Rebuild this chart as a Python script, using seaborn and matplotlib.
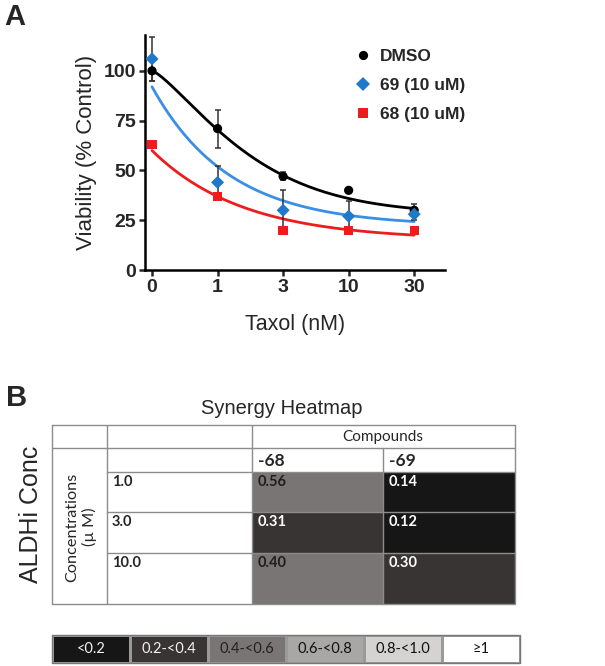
import numpy as np
import pandas as pd
import seaborn as sns
import matplotlib.pyplot as plt
from matplotlib.colors import ListedColormap, BoundaryNorm

## Panel A data: viability vs taxol
taxol_labels = ["0", "1", "3", "10", "30"]
dmso = [100, 71, 47, 40, 30]
dmso_err = [5, 9.5, 2, 0, 3]
cpd69 = [106, 44, 30, 27, 28]
cpd69_err = [11, 8, 10, 7.5, 3]
cpd68 = [63, 37, 20, 20, 20]
cpd68_err = [0, 0, 0, 0, 0]
series_names = ["DMSO", "69 (10 uM)", "68 (10 uM)"]

# fitted curve parameters (bottom, span, rate, shape)
fit_dmso = (28, 72, 0.53, 1.3)
fit_69 = (22, 70, 0.85, 1.0)
fit_68 = (15, 45, 0.72, 1.0)

## Panel B data: synergy table
conc_labels = ["1.0", "3.0", "10.0"]
compounds = ["-68", "-69"]
synergy = np.array([[0.56, 0.14], [0.31, 0.12], [0.40, 0.30]])
bin_edges = [0, 0.2, 0.4, 0.6, 0.8, 1.0, 2.0]
bin_labels = ["<0.2", "0.2-<0.4", "0.4-<0.6", "0.6-<0.8", "0.8-<1.0", "≥1"]
bin_colors = ["#161616", "#383433", "#787574", "#a9a7a5", "#d4d3d2", "#ffffff"]

colors = {"DMSO": "black", "69 (10 uM)": "#1f78c8", "68 (10 uM)": "#ee1c1c"}
curve_colors = {"DMSO": "black", "69 (10 uM)": "#3a8ee6", "68 (10 uM)": "#ee1c1c"}
markers = {"DMSO": "o", "69 (10 uM)": "D", "68 (10 uM)": "s"}

sns.set_style("ticks")
plt.rcParams["font.family"] = ["Liberation Sans", "DejaVu Sans"]

fig = plt.figure(figsize=(6.05, 6.66), dpi=100)
W, H = 605, 666


def fig_rect(x0, y0, x1, y1):
    return [x0 / W, 1 - y1 / H, (x1 - x0) / W, (y1 - y0) / H]


#%% Panel A
ax = fig.add_axes(fig_rect(145, 35, 445, 270))
pos = np.arange(len(taxol_labels))
vals = {"DMSO": dmso, "69 (10 uM)": cpd69, "68 (10 uM)": cpd68}
errs = {"DMSO": dmso_err, "69 (10 uM)": cpd69_err, "68 (10 uM)": cpd68_err}
fits = {"DMSO": fit_dmso, "69 (10 uM)": fit_69, "68 (10 uM)": fit_68}

xs = np.linspace(0, 4, 200)
for name in series_names:
    b, a, k, m = fits[name]
    sns.lineplot(x=xs, y=b + a * np.exp(-k * xs ** m), color=curve_colors[name],
                 lw=2.0, ax=ax, zorder=2)

for name in series_names:
    e = np.array(errs[name])
    if e.any():
        ax.errorbar(pos, vals[name], yerr=e, fmt="none", ecolor="#333333",
                    elinewidth=1.1, capsize=2.2, capthick=1.1, zorder=3)

df = pd.DataFrame({
    "pos": np.tile(pos, 3),
    "viability": dmso + cpd69 + cpd68,
    "treatment": np.repeat(series_names, len(pos)),
})
sns.scatterplot(data=df, x="pos", y="viability", hue="treatment", style="treatment",
                palette=colors, markers=markers, s=44, linewidth=0, ax=ax,
                zorder=4, clip_on=False)

ax.set_xlim(-0.107, 4.47)
ax.set_ylim(0, 118)
ax.set_xticks(pos)
ax.set_xticklabels(taxol_labels)
ax.set_yticks([0, 25, 50, 75, 100])
ax.tick_params(width=1.8, length=4.5, labelsize=14, pad=2)
for lab in ax.get_xticklabels() + ax.get_yticklabels():
    lab.set_fontweight("bold")
for s in ["top", "right"]:
    ax.spines[s].set_visible(False)
for s in ["left", "bottom"]:
    ax.spines[s].set_linewidth(1.8)
    ax.spines[s].set_color("black")
ax.set_xlabel("Taxol (nM)", fontsize=15.5, labelpad=13)
ax.set_ylabel("Viability (% Control)", fontsize=16, labelpad=5)

handles, labels = ax.get_legend_handles_labels()
ax.legend(handles, labels, loc="upper left", bbox_to_anchor=(354 / W, 1 - 49 / H),
          bbox_transform=fig.transFigure, frameon=False, borderpad=0,
          borderaxespad=0, handlelength=1.0, handletextpad=0.5, labelspacing=0.8,
          prop={"weight": "bold", "size": 12.5})

#%% Panel B
tab = fig.add_axes([0, 0, 1, 1], zorder=5)
tab.set_xlim(0, W)
tab.set_ylim(H, 0)
tab.axis("off")

fig.text(15 / W, 1 - 17 / H, "A", fontsize=21, fontweight="bold", ha="center", va="center")
fig.text(17 / W, 1 - 398 / H, "B", fontsize=21, fontweight="bold", ha="center", va="center")

# table layout (pixels)
x_edges = [52, 107, 252, 383, 515]
y_top, y_hdr, y_sub = 425, 448, 472
row_edges = [472, 512, 553, 604]
row_heights = np.diff(row_edges)

hax = fig.add_axes(fig_rect(252, 472, 515, 604))
cmap = ListedColormap(bin_colors)
norm = BoundaryNorm(bin_edges, cmap.N)
sns.heatmap(np.repeat(synergy, row_heights, axis=0), cmap=cmap, norm=norm, cbar=False,
            xticklabels=False, yticklabels=False, ax=hax)

gc = "#8c8c8c"
lw = 1.0
tab.plot([52, 515, 515, 52, 52], [425, 425, 604, 604, 425], color=gc, lw=lw)
tab.plot([52, 515], [y_hdr, y_hdr], color=gc, lw=lw)
for y in row_edges[:-1]:
    tab.plot([107, 515], [y, y], color=gc, lw=lw)
tab.plot([107, 107], [425, 604], color=gc, lw=lw)
tab.plot([252, 252], [425, 604], color=gc, lw=lw)
tab.plot([383, 383], [448, 604], color=gc, lw=lw)

tfont = ["Lato", "DejaVu Sans"]
tab.text(282, 408, "Synergy Heatmap", fontsize=14.5, ha="center", va="center")
tab.text(383, 437, "Compounds", fontsize=11, ha="center", va="center", family=tfont)
for j, c in enumerate(compounds):
    tab.text(x_edges[2 + j] + 6, 461, c, fontsize=12.5, fontweight="bold",
             ha="left", va="center", family=tfont)
for i, c in enumerate(conc_labels):
    ty = row_edges[i] + 10
    tab.text(112, ty, c, fontsize=10.5, fontweight="bold", ha="left", va="center",
             family=tfont)
    for j in range(len(compounds)):
        v = synergy[i, j]
        tab.text(x_edges[2 + j] + 6, ty, f"{v:.2f}", fontsize=10.5, fontweight="bold",
                 ha="left", va="center", family=tfont,
                 color="white" if v < 0.4 else "#1e1e1e")
tab.text(81, 527, "Concentrations\n(µ M)", fontsize=11.7, rotation=90, ha="center",
         va="center", family=tfont, linespacing=1.2)
tab.text(31, 514, "ALDHi Conc", fontsize=18, rotation=90, ha="center", va="center")

# legend bar
lax = fig.add_axes(fig_rect(52, 635, 520, 663))
sns.heatmap(np.arange(len(bin_labels))[np.newaxis, :], cmap=cmap, vmin=-0.5,
            vmax=len(bin_labels) - 0.5, cbar=False, annot=np.array([bin_labels]),
            fmt="", annot_kws={"fontsize": 10.5, "family": tfont},
            linewidths=1, linecolor="#9a9a9a", xticklabels=False, yticklabels=False,
            ax=lax)
for t, col in zip(lax.texts, ["#f2f2f2", "#f2f2f2", "#222222", "#111111", "#111111", "#111111"]):
    t.set_color(col)
tab.plot([52, 520, 520, 52, 52], [635, 635, 663, 663, 635], color="#777777", lw=1.0)

fig.savefig("out.png", dpi=100)
